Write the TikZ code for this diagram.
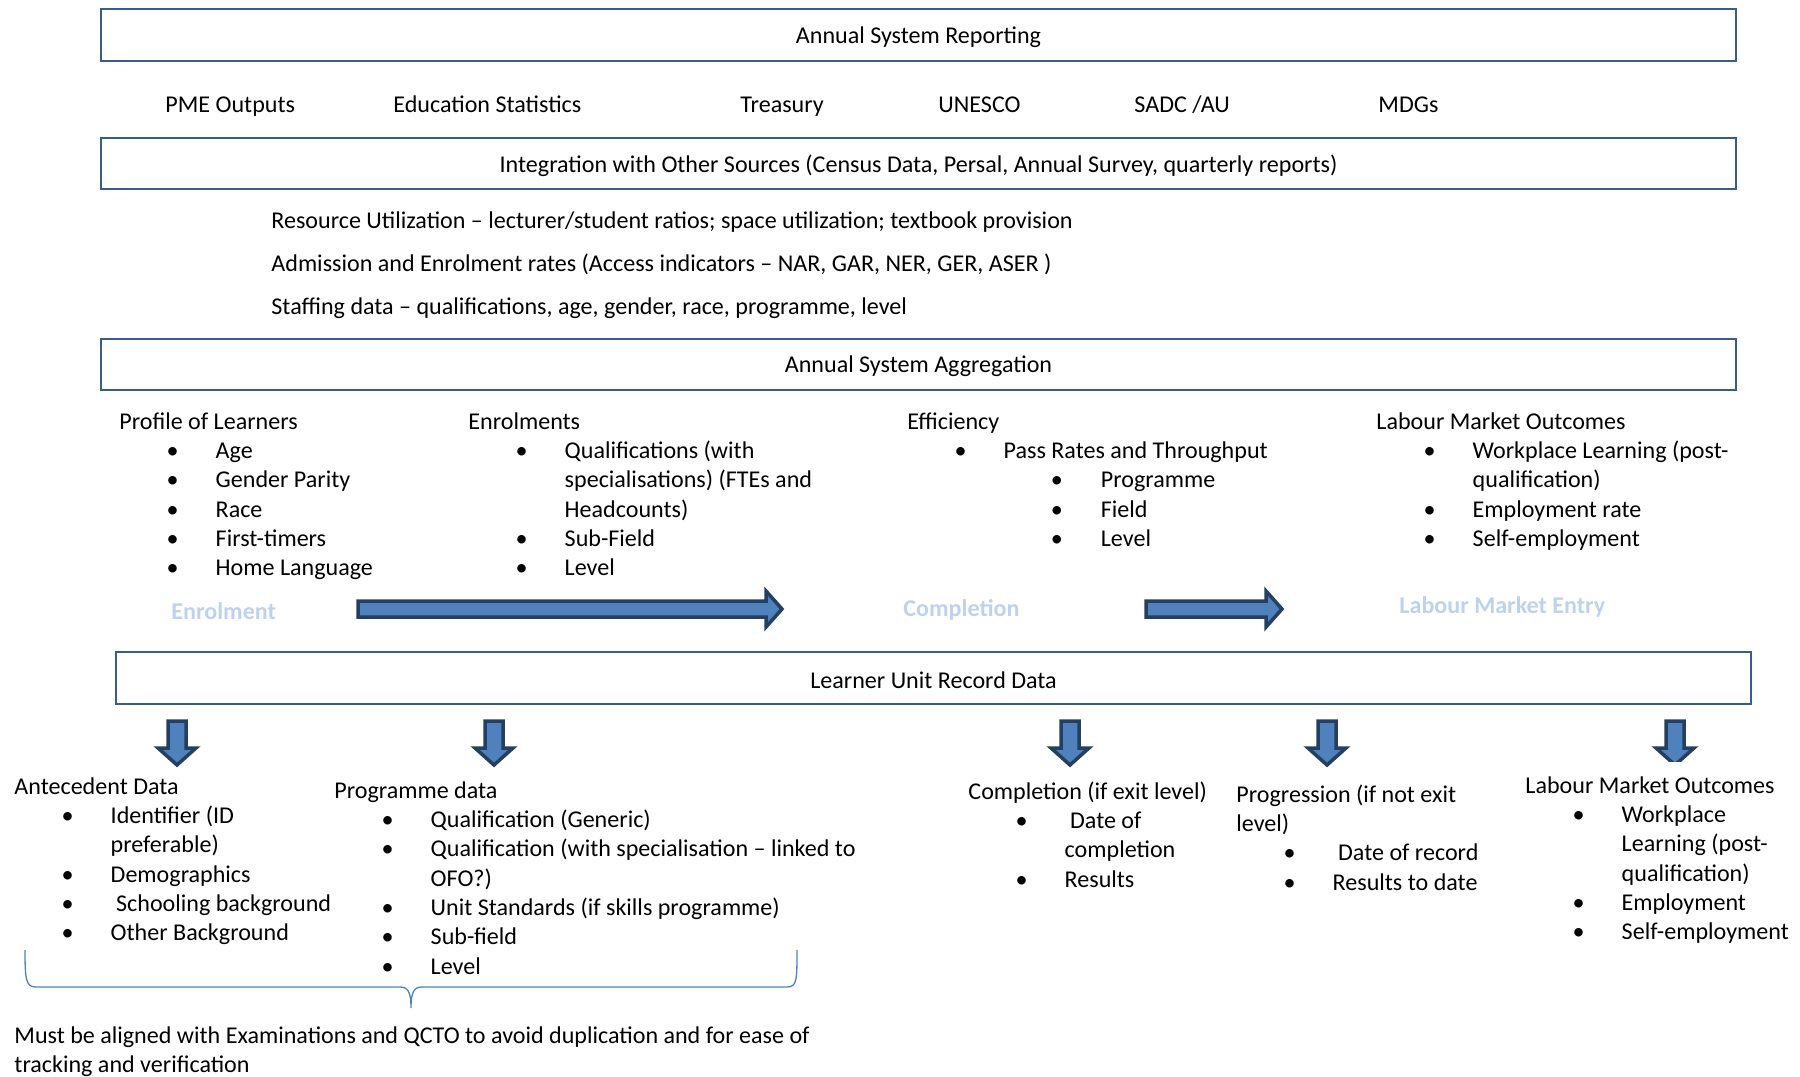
\documentclass[tikz,border=0pt]{standalone}
\usepackage{fontspec}
\setmainfont{Carlito}
\usetikzlibrary{fit}
\definecolor{barblue}{RGB}{56,93,138}
\definecolor{arrowfill}{RGB}{79,129,189}
\definecolor{arrowline}{RGB}{36,63,96}
\definecolor{stagetext}{RGB}{190,210,238}
\tikzset{
  bar/.style={rectangle, draw=barblue, line width=0.9pt, inner sep=0pt, fill=white},
  bartxt/.style={inner sep=0pt, font=\fontsize{11}{13.4}\selectfont},
  txt/.style={anchor=base west, inner sep=0pt,
              font=\fontsize{11}{13.4}\selectfont},
  lst/.style={anchor=north west, inner sep=0pt, align=left,
              font=\fontsize{11}{13.4}\selectfont, execute at begin node=\strut},
  stage/.style={anchor=base west, inner sep=0pt, text=stagetext,
                font=\fontsize{11}{13.4}\selectfont\bfseries},
  blockarrow/.style={draw=arrowline, line width=1.6pt, fill=arrowfill},
  brace/.style={draw=arrowfill, line width=0.6pt}
}
\newcommand{\bitem}[1]{\hspace*{21.6pt}\makebox[22.4pt][l]{•}#1}
\newcommand{\bmore}[1]{\hspace*{44pt}#1}
\newcommand{\bsub}[1]{\hspace*{65.5pt}\makebox[22.9pt][l]{•}#1}

\begin{document}
\begin{tikzpicture}[x=0.457pt, y=-0.457pt]
  \useasboundingbox (0,0) rectangle (1800,1076);
  % reporting layer
  \node[bar, fit={(101,9) (1736,61)}] (report) {};
  \node[bartxt] at ([yshift=-1pt]report) {Annual System Reporting};
  \node[txt] (pme) at (165,112) {PME Outputs};
  \node[txt] (edustats) at (393,112) {Education Statistics};
  \node[txt] (treasury) at (740,112) {Treasury};
  \node[txt] (unesco) at (938,112) {UNESCO};
  \node[txt] (sadc) at (1134,112) {SADC /AU};
  \node[txt] (mdgs) at (1378,112) {MDGs};
  \node[bar, fit={(101,138) (1736,189)}] (integ) {};
  \node[bartxt] at ([yshift=-1pt]integ)
    {Integration with Other Sources (Census Data, Persal, Annual Survey, quarterly reports)};
  \node[txt] (resource) at (271,228)
    {Resource Utilization – lecturer/student ratios; space utilization; textbook provision};
  \node[txt] (admission) at (271,271)
    {Admission and Enrolment rates (Access indicators – NAR, GAR, NER, GER, ASER )};
  \node[txt] (staffing) at (271,314)
    {Staffing data – qualifications, age, gender, race, programme, level};
  % aggregation layer
  \node[bar, fit={(101,339) (1736,390)}] (aggr) {};
  \node[bartxt] at ([yshift=-1pt]aggr) {Annual System Aggregation};
  \node[lst] (profile) at (119,412)
    {Profile of Learners\\ \bitem{Age}\\ \bitem{Gender Parity}\\ \bitem{Race}\\
     \bitem{First-timers}\\ \bitem{Home Language}};
  \node[lst] (enrol) at (468,412)
    {Enrolments\\ \bitem{Qualifications (with}\\ \bmore{specialisations) (FTEs and}\\
     \bmore{Headcounts)}\\ \bitem{Sub-Field}\\ \bitem{Level}};
  \node[lst] (effic) at (907,412)
    {Efficiency\\ \bitem{Pass Rates and Throughput}\\ \bsub{Programme}\\
     \bsub{Field}\\ \bsub{Level}};
  \node[lst] (labour) at (1376,412)
    {Labour Market Outcomes\\ \bitem{Workplace Learning (post-}\\ \bmore{qualification)}\\
     \bitem{Employment rate}\\ \bitem{Self-employment}};
  \node[stage] (stEnrol) at (171,619) {Enrolment};
  \node[stage] (stCompl) at (903,616) {Completion};
  \node[stage] (stLabour) at (1399,613) {Labour Market Entry};
  \draw[blockarrow] (358,601) -- (766,601) -- (766,591) -- (782,609) -- (766,627)
    -- (766,617) -- (358,617) -- cycle;
  \draw[blockarrow] (1146,601) -- (1266,601) -- (1266,591) -- (1282,609) -- (1266,627)
    -- (1266,617) -- (1146,617) -- cycle;
  % unit record layer
  \node[bar, fit={(116,652) (1751,704)}] (lurd) {};
  \node[bartxt] at ([yshift=-1pt]lurd) {Learner Unit Record Data};
  \foreach \x in {177,494,1070,1327}
    \draw[blockarrow] (\x-9,721) -- (\x+9,721) -- (\x+9,748) -- (\x+19,748) -- (\x,765)
      -- (\x-19,748) -- (\x-9,748) -- cycle;
  \begin{scope}
    \clip (1640,700) rectangle (1710,761);
    \draw[blockarrow] (1666,721) -- (1684,721) -- (1684,748) -- (1694,748) -- (1675,765)
      -- (1656,748) -- (1666,748) -- cycle;
  \end{scope}
  \node[lst] (antec) at (14,777)
    {Antecedent Data\\ \bitem{Identifier (ID}\\ \bmore{preferable)}\\ \bitem{Demographics}\\
     \bitem{\ Schooling background}\\ \bitem{Other Background}};
  \node[lst] (progdata) at (334,781)
    {Programme data\\ \bitem{Qualification (Generic)}\\
     \bitem{Qualification (with specialisation – linked to}\\ \bmore{OFO?)}\\
     \bitem{Unit Standards (if skills programme)}\\ \bitem{Sub-field}\\ \bitem{Level}};
  \node[lst] (compl) at (968,781)
    {Completion (if exit level)\\ \bitem{\ Date of}\\ \bmore{completion}\\ \bitem{Results}};
  \node[lst] (progr) at (1236,784)
    {Progression (if not exit\\ level)\\ \bitem{\ Date of record}\\ \bitem{Results to date}};
  \node[lst] (labourout) at (1525,776)
    {Labour Market Outcomes\\ \bitem{Workplace}\\ \bmore{Learning (post-}\\
     \bmore{qualification)}\\ \bitem{Employment}\\ \bitem{Self-employment}};
  % brace over the first two lists
  \draw[brace] (25,950) .. controls (25,980) and (26,987) .. (36,987) -- (400,987)
    .. controls (408,987) and (411,992) .. (411,1008)
    .. controls (411,992) and (414,987) .. (422,987) -- (787,987)
    .. controls (797,987) and (797,980) .. (797,950);
  \node[lst] (note) at (14,1026)
    {Must be aligned with Examinations and QCTO to avoid duplication and for ease of\\
     tracking and verification};
\end{tikzpicture}
\end{document}
